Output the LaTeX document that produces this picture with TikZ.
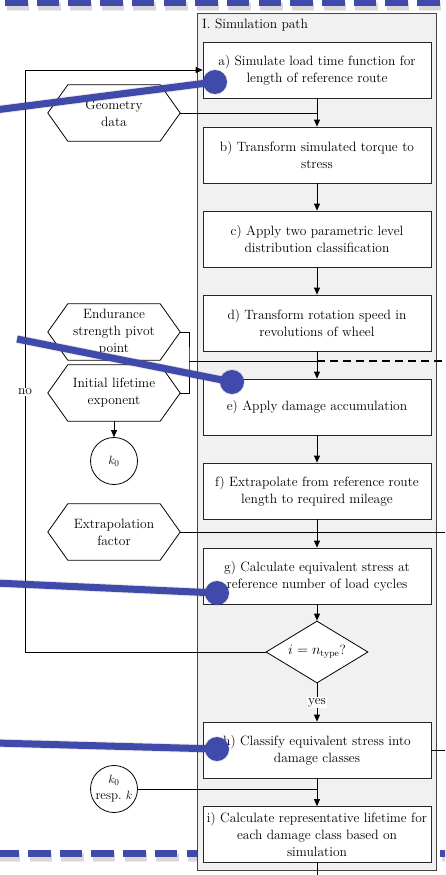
\documentclass[tikz,border=0pt]{standalone}
\usepackage{fontspec}
\usetikzlibrary{arrows.meta,shapes.geometric}
\definecolor{ann}{RGB}{64,74,170}
\definecolor{panelfill}{RGB}{241,241,241}
\definecolor{panelline}{RGB}{70,70,70}
\newcommand\fs{\fontsize{13.5}{17}\selectfont}
\newcommand\hexdraw[1]{\draw[ln] (#1.west) -- ([xshift=20pt]#1.north west) -- ([xshift=-20pt]#1.north east) -- (#1.east) -- ([xshift=-20pt]#1.south east) -- ([xshift=20pt]#1.south west) -- cycle;}
\tikzset{
  ln/.style={draw=black, line width=0.8pt},
  arr/.style={ln, -{Triangle[width=6pt,length=7pt]}},
  box/.style={draw=black!85, line width=0.8pt, fill=white, minimum width=228pt, minimum height=56pt, align=center, inner sep=0pt, font=\fs},
  panel/.style={draw=panelline, line width=0.9pt, fill=panelfill, minimum width=239pt, minimum height=857pt, inner sep=0pt},
  hexn/.style={minimum width=132pt, minimum height=56pt, inner sep=0pt, align=center, font=\fs},
  circ/.style={draw=black, line width=0.8pt, circle, minimum size=47pt, inner sep=0pt, align=center, font=\fontsize{13}{16}\selectfont},
  dia/.style={draw=black, line width=0.8pt, fill=white, diamond, aspect=1.65, minimum width=102pt, minimum height=62pt, inner sep=0pt, font=\fs},
  lab/.style={fill=white, inner sep=1pt, font=\fs},
  annline/.style={draw=ann, line width=7pt},
  annshadow/.style={draw=black, opacity=0.08, line width=#1},
  anndot/.style={fill=ann},
  dotshadow/.style={fill=black, opacity=0.08},
  anndash/.style={draw=ann, line width=7pt, dash pattern=on 22.5pt off 9.2pt},
}
\begin{document}
\begin{tikzpicture}[x=1pt,y=-1pt]
\useasboundingbox (0,0) rectangle (445,875);
\clip (0,0) rectangle (445,875);
\fill[white] (0,0) rectangle (445,875);
% bottom dashed annotation line (behind the panel)
\foreach \w in {9,7}{
\draw[anndash, draw=black, opacity=0.08, line width=\w pt, shift={(1.5,4)}] (-3.7,853) -- (450,853);}
\draw[anndash] (-3.7,853) -- (450,853);
% panel
\node[panel] (panel) at (316.5,441.5) {};
\node[anchor=west, font=\fs, inner sep=0pt] (ptitle) at (202,25) {I. Simulation path};
% process boxes
\node[box] (a) at (317,70) {a) Simulate load time function for\\length of reference route};
\node[box] (b) at (317,155) {b) Transform simulated torque to\\stress};
\node[box] (c) at (317,239) {c) Apply two parametric level\\distribution classification};
\node[box] (d) at (317,323) {d) Transform rotation speed in\\revolutions of wheel};
\node[box] (e) at (317,407) {e) Apply damage accumulation};
\node[box] (f) at (317,491) {f) Extrapolate from reference route\\length to required mileage};
\node[box] (g) at (317,576) {g) Calculate equivalent stress at\\reference number of load cycles};
\node[dia] (q) at (317,652) {$i = n_{\mathrm{type}}$?};
\node[box] (h) at (317,750) {h) Classify equivalent stress into\\damage classes};
\node[box] (i) at (317,834.5) {i) Calculate representative lifetime for\\each damage class based on\\simulation};
% inputs
\node[hexn] (geo) at (114,113) {Geometry\\data};
\hexdraw{geo}
\node[hexn] (endu) at (114,332) {Endurance\\strength pivot\\point};
\hexdraw{endu}
\node[hexn] (init) at (114,393) {Initial lifetime\\exponent};
\hexdraw{init}
\node[hexn] (extra) at (114,532) {Extrapolation\\factor};
\hexdraw{extra}
\node[circ] (k0) at (114,461) {$k_0$};
\node[circ] (kr) at (114,789) {$k_0$\\resp.~$k$};
% helper coordinates
\coordinate (br) at (189,361);
\coordinate (dashend) at (445,361);
\coordinate (extraend) at (445,532);
\coordinate (hend) at (445,750);
\coordinate (iend) at (317,875);
\coordinate (noc) at (25,70);
% connectors
\draw[arr] (a) -- (b);
\draw[ln] (geo.east) -- (geo.east -| a.south);
\draw[arr] (b) -- (c);
\draw[arr] (c) -- (d);
\draw[arr] (d) -- (e);
\draw[ln] (endu.east) -| (br) |- (init.east);
\draw[ln] (br) -- (br -| e.north);
\draw[dashed, line width=1.5pt, dash pattern=on 8pt off 5pt] (br -| e.north) -- (dashend);
\draw[arr] (init) -- (k0);
\draw[arr] (e) -- (f);
\draw[arr] (f) -- (g);
\draw[ln] (extra.east) -- (extraend);
\draw[arr] (g) -- (q);
\draw[arr] (q) -- node[lab] (yes) {yes} (h);
\draw[arr] (q.west) -| (noc) -- (a.west);
\node[lab] (no) at (25,392) {no};
\draw[arr] (h) -- (i);
\draw[ln] (kr.east) -- (kr.east -| i.north);
\draw[ln] (h.east) -- (hend);
\draw[ln] (i.south) -- (iend);
% annotation lines
\coordinate (s1) at (-5,110); \coordinate (t1) at (215,82);
\coordinate (s2) at (17,339); \coordinate (t2) at (232,382);
\coordinate (s3) at (-5,583); \coordinate (t3) at (217,593);
\coordinate (s4) at (-5,743); \coordinate (t4) at (217,749);
\begin{scope}[shift={(1.5,4)}]
\foreach \s/\t in {s1/t1,s2/t2,s3/t3,s4/t4}{
  \draw[annshadow=9pt] (\s) -- (\t);
  \draw[annshadow=7pt] (\s) -- (\t);
  \fill[dotshadow] (\t) circle (13pt);
  \fill[dotshadow] (\t) circle (11.5pt);
}
\foreach \w in {9,7}{
\draw[anndash, draw=black, opacity=0.08, line width=\w pt] (5,3) -- (450,3);}
\end{scope}
\foreach \s/\t in {s1/t1,s2/t2,s3/t3,s4/t4}{
  \draw[annline] (\s) -- (\t);
  \fill[anndot] (\t) circle (12pt);
}
\draw[anndash] (5,3) -- (450,3);
\end{tikzpicture}
\end{document}
